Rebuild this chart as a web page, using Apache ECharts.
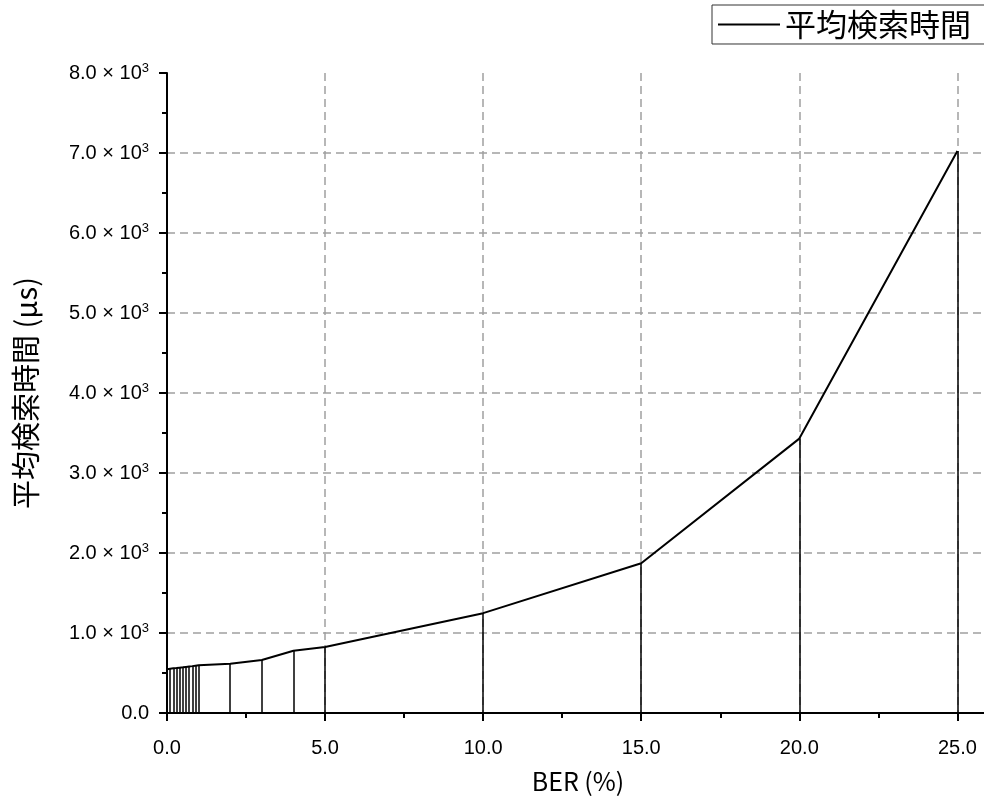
<!DOCTYPE html>
<html>
<head>
<meta charset="utf-8">
<script src="https://cdn.jsdelivr.net/npm/echarts@6/dist/echarts.min.js"></script>
<style>html,body{margin:0;padding:0;background:#fff}#c{width:984px;height:803px}</style>
</head>
<body>
<div id="c"></div>
<script>
const berValues = [0, 0.1, 0.2, 0.3, 0.4, 0.5, 0.6, 0.7, 0.8, 0.9, 1.0, 2, 3, 4, 5, 10, 15, 20, 25];
const searchTimes = [548, 553, 558, 562, 567, 571, 576, 581, 586, 592, 598, 616, 662, 778, 825, 1248, 1872, 3430, 7025];
const seriesName = '平均検索時間';
const xTitle = 'BER (%)';
const yTitle = '平均検索時間 (μs)';

const pts = berValues.map((x, i) => [x, searchTimes[i]]);
const drops = pts.map(p => [{coord: [p[0], 0]}, {coord: [p[0], p[1]]}]);
const numFont = 'Liberation Sans, Arial, sans-serif';
const cjkFont = 'Noto Sans CJK JP, sans-serif';
const gridLine = {show: true, showMinLine: false, showMaxLine: false, lineStyle: {color: '#a0a0a0', type: [8, 5], width: 1.5}};

const chart = echarts.init(document.getElementById('c'));
chart.setOption({
  animation: false,
  backgroundColor: '#fff',
  grid: {left: 167, top: 73, width: 822, height: 640, containLabel: false, outerBoundsMode: 'none'},
  legend: {
    left: 712, top: 5,
    padding: [4, 24, 4, 6],
    borderColor: '#333', borderWidth: 1,
    icon: 'rect',
    itemWidth: 62, itemHeight: 2, itemGap: 10,
    textStyle: {fontSize: 31, fontFamily: cjkFont, color: '#000'},
    data: [seriesName]
  },
  xAxis: {
    type: 'value', min: 0, max: 26, interval: 5,
    name: xTitle, nameLocation: 'middle', nameGap: 56,
    nameTextStyle: {fontSize: 25, fontFamily: cjkFont, color: '#000'},
    axisLine: {show: true, onZero: false, lineStyle: {color: '#000', width: 2}},
    axisTick: {show: true, inside: false, length: 8, lineStyle: {color: '#000', width: 2}},
    minorTick: {show: true, splitNumber: 2, length: 5, lineStyle: {color: '#000', width: 2}},
    axisLabel: {fontSize: 20, fontFamily: numFont, color: '#000', margin: 25,
      formatter: v => (Math.abs(v % 5) < 1e-9 ? v.toFixed(1) : '')},
    splitLine: gridLine
  },
  yAxis: {
    type: 'value', min: 0, max: 8000, interval: 1000,
    name: yTitle, nameLocation: 'middle', nameGap: 127,
    nameTextStyle: {fontSize: 29, fontFamily: cjkFont, color: '#000'},
    axisLine: {show: true, onZero: false, lineStyle: {color: '#000', width: 2}},
    axisTick: {show: true, inside: false, length: 8, lineStyle: {color: '#000', width: 2}},
    minorTick: {show: true, splitNumber: 2, length: 5, lineStyle: {color: '#000', width: 2}},
    axisLabel: {
      margin: 18, color: '#000',
      formatter: v => v === 0 ? '{m|0.0}' : '{m|' + (v / 1000).toFixed(1) + ' × 10}{s|3}',
      rich: {
        m: {fontSize: 20, fontFamily: numFont, color: '#000'},
        s: {fontSize: 13, fontFamily: numFont, color: '#000', padding: [0, 0, 10, 0]}
      }
    },
    splitLine: gridLine
  },
  series: [{
    name: seriesName,
    type: 'line',
    data: pts,
    symbol: 'none',
    lineStyle: {color: '#000', width: 2},
    itemStyle: {color: '#000'},
    z: 5,
    markLine: {
      silent: true,
      symbol: 'none',
      z: 6,
      label: {show: false},
      lineStyle: {color: '#000', width: 1.5, type: 'solid'},
      data: drops
    }
  }]
});
</script>
</body>
</html>
